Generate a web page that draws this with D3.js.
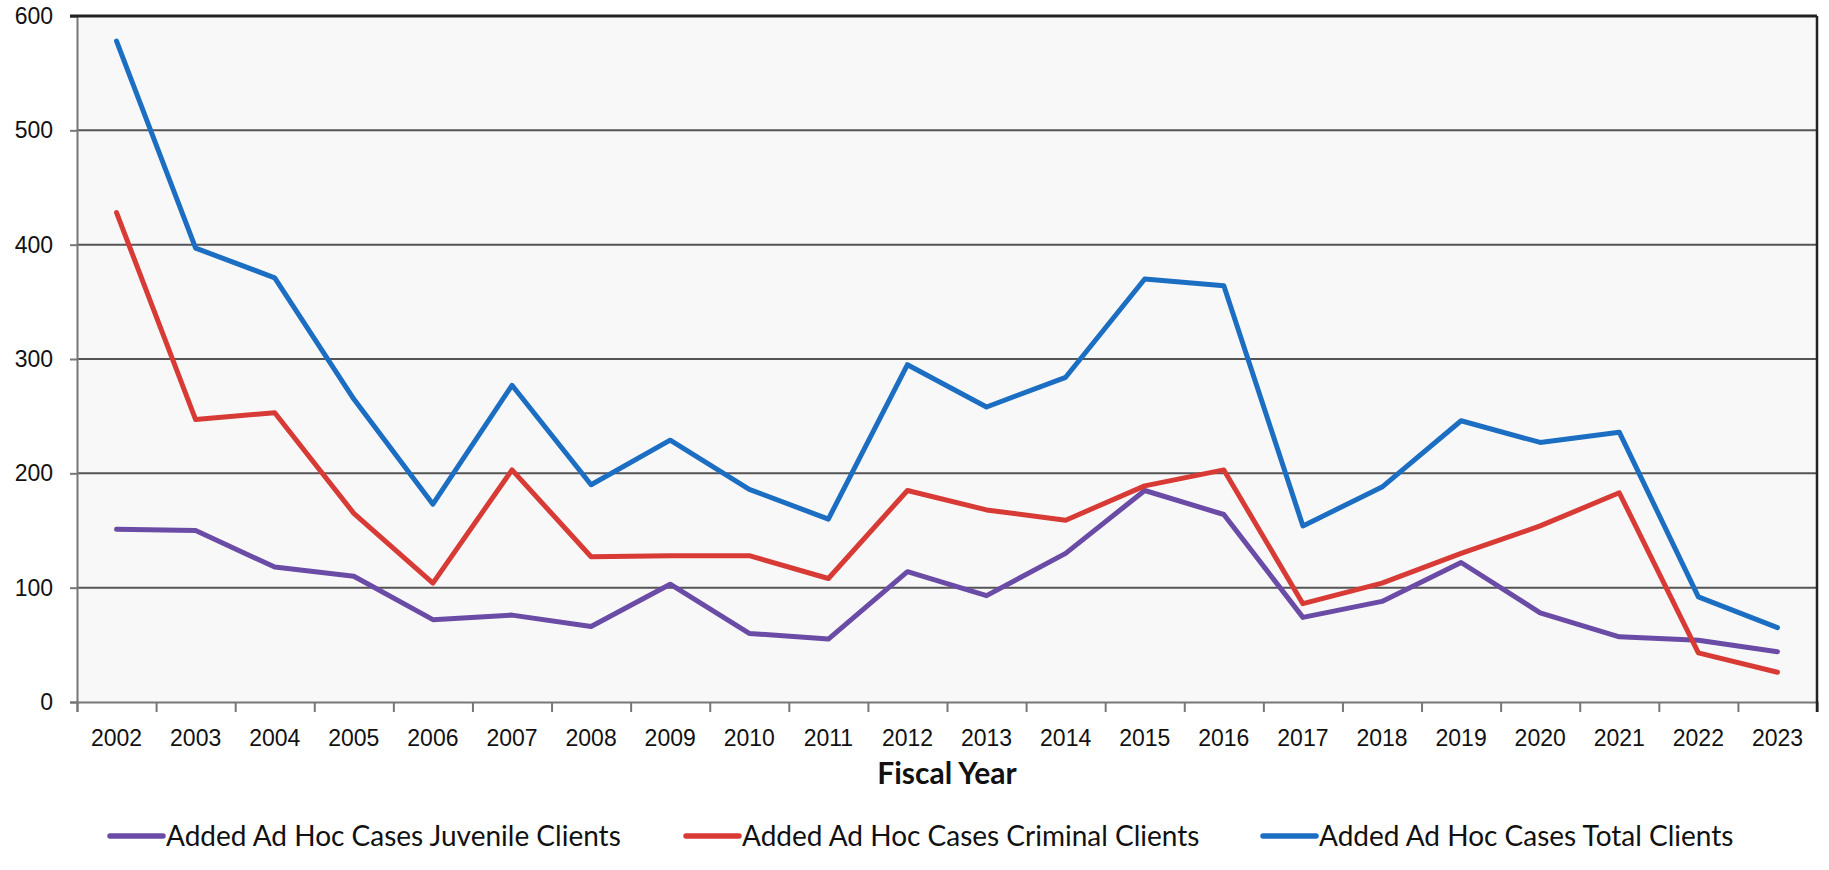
<!DOCTYPE html>
<html>
<head>
<meta charset="utf-8">
<script src="https://cdn.jsdelivr.net/npm/d3@7"></script>
<style>
  html, body { margin: 0; padding: 0; background: #fff; }
  svg { display: block; font-family: Lato, "Open Sans", sans-serif; }
  .axis text { fill: #111; }
</style>
</head>
<body>
<div id="chart"></div>
<script>
const years = ['2002','2003','2004','2005','2006','2007','2008','2009','2010','2011','2012',
               '2013','2014','2015','2016','2017','2018','2019','2020','2021','2022','2023'];
const juvenile = [151,150,118,110,72,76,66,103,60,55,114,93,130,185,164,74,88,122,78,57,54,44];
const criminal = [428,247,253,165,104,203,127,128,128,108,185,168,159,189,203,86,104,130,154,183,43,26];
const total    = [578,397,371,265,173,277,190,229,186,160,295,258,284,370,364,154,188,246,227,236,92,65];
const yTicks = [0,100,200,300,400,500,600];
const seriesNames = ['Added Ad Hoc Cases Juvenile Clients','Added Ad Hoc Cases Criminal Clients','Added Ad Hoc Cases Total Clients'];
const seriesColors = ['#6a4ba6','#d83b35','#1b6ec2'];

const W = 1829, H = 870;
const plotL = 77, plotR = 1817, plotT = 16, plotB = 702;

const svg = d3.select('#chart').append('svg')
    .attr('width', W)
    .attr('height', H);

const x = d3.scaleBand().domain(years).range([plotL, plotR]).padding(0);
const xb = d3.scaleLinear().domain([0, years.length]).range([plotL, plotR]);
const y = d3.scaleLinear().domain([0, 600]).range([plotB, plotT]);

// plot background
svg.append('rect')
    .attr('x', plotL).attr('y', plotT)
    .attr('width', plotR - plotL).attr('height', plotB - plotT)
    .attr('fill', '#f8f8f8');

// gridlines
svg.append('g')
    .selectAll('line')
    .data(yTicks.filter(d => d > 0 && d < 600))
    .join('line')
    .attr('x1', plotL).attr('x2', plotR)
    .attr('y1', d => y(d)).attr('y2', d => y(d))
    .attr('stroke', '#555')
    .attr('stroke-width', 2);

// y axis
svg.append('g')
    .attr('class', 'axis')
    .attr('transform', `translate(${plotL},0)`)
    .call(d3.axisLeft(y).tickValues(yTicks).tickSize(7).tickPadding(17))
    .call(g => g.select('.domain').attr('stroke', '#777').attr('stroke-width', 2))
    .call(g => g.selectAll('.tick line').attr('stroke', '#777').attr('stroke-width', 2))
    .call(g => g.selectAll('.tick text').style('font-size', '23px'));

// x axis labels
svg.append('g')
    .attr('class', 'axis')
    .attr('transform', `translate(0,${plotB})`)
    .call(d3.axisBottom(x).tickSize(0).tickPadding(28))
    .call(g => g.select('.domain').remove())
    .call(g => g.selectAll('.tick text').style('font-size', '23px'));

// x axis boundary ticks
svg.append('g')
    .attr('transform', `translate(0,${plotB})`)
    .call(d3.axisBottom(xb).ticks(years.length).tickSize(10).tickFormat(''))
    .call(g => g.select('.domain').attr('stroke', '#777').attr('stroke-width', 2))
    .call(g => g.selectAll('.tick line').attr('stroke', '#777').attr('stroke-width', 2));

// top and right border
svg.append('line')
    .attr('x1', plotL - 7).attr('x2', plotR).attr('y1', plotT).attr('y2', plotT)
    .attr('stroke', '#222').attr('stroke-width', 3);
svg.append('line')
    .attr('x1', plotR).attr('x2', plotR).attr('y1', plotT).attr('y2', plotB + 10)
    .attr('stroke', '#222').attr('stroke-width', 2.5);

// lines
const line = d3.line()
    .x((d, i) => x(years[i]) + x.bandwidth() / 2)
    .y(d => y(d));

[juvenile, criminal, total].forEach((vals, i) => {
    svg.append('path')
        .datum(vals)
        .attr('fill', 'none')
        .attr('stroke', seriesColors[i])
        .attr('stroke-width', 5)
        .attr('stroke-linejoin', 'round')
        .attr('stroke-linecap', 'round')
        .attr('d', line);
});

// x axis title
svg.append('text')
    .attr('x', (plotL + plotR) / 2)
    .attr('y', 784)
    .attr('text-anchor', 'middle')
    .style('font-size', '30px')
    .style('font-weight', 'bold')
    .attr('fill', '#111')
    .text('Fiscal Year');

// legend
const legendX = [110, 686, 1263];
const legend = svg.append('g');
seriesNames.forEach((name, i) => {
    const row = legend.append('g').attr('transform', `translate(${legendX[i]},836)`);
    row.append('line')
        .attr('x1', 0).attr('x2', 53)
        .attr('stroke', seriesColors[i])
        .attr('stroke-width', 5.5)
        .attr('stroke-linecap', 'round');
    row.append('text')
        .attr('x', 56)
        .attr('y', 10)
        .style('font-size', '28px')
        .attr('fill', '#111')
        .text(name);
});
</script>
</body>
</html>
